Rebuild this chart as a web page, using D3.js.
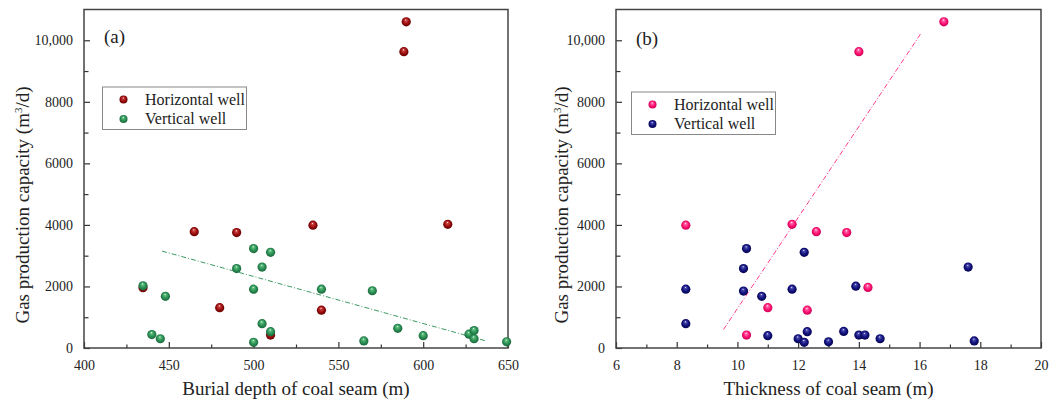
<!DOCTYPE html>
<html>
  <head>
    <script src="https://d3js.org/d3.v7.min.js"></script>
    <style>
      body {
        margin: 0;
        background-color: #ffffff;
      }
      svg text {
        font-family: "Liberation Serif", "Times New Roman", "DejaVu Serif", serif !important;
      }
    </style>
    <title>Gas production capacity</title>
  </head>

  <body>
    <svg id="chart" width="1061" height="401"></svg>

    <script>
      // panel (a): burial depth (m) vs gas production (m3/d)
      var depthHorizontal = [590, 588.6, 535, 614.5, 465, 490, 480, 540, 434.8, 510];
      var gasHorizontalA = [10600, 9630, 3990, 4020, 3780, 3750, 1310, 1230, 1960, 420];
      var depthVertical = [434.8, 448, 440, 445, 500, 510, 490, 505, 500, 540, 570, 505, 510, 500, 565, 585, 600, 627, 630, 630, 649.2];
      var gasVerticalA = [2020, 1680, 435, 300, 3230, 3110, 2580, 2630, 1910, 1910, 1860, 790, 530, 185, 230, 640, 400, 450, 565, 300, 200];
      var trendA = [[446, 3150], [637, 230]];

      // panel (b): thickness (m) vs gas production (m3/d)
      var thickHorizontal = [16.8, 14.0, 8.3, 11.8, 12.6, 13.6, 14.3, 11.0, 12.3, 10.3];
      var gasHorizontalB = [10600, 9630, 3990, 4020, 3780, 3750, 1970, 1310, 1230, 420];
      var thickVertical = [10.3, 12.2, 10.2, 17.6, 8.3, 11.8, 13.9, 10.2, 10.8, 8.3, 11.0, 12.0, 12.2, 12.3, 13.0, 13.5, 14.0, 14.2, 14.7, 17.8];
      var gasVerticalB = [3230, 3110, 2580, 2630, 1910, 1910, 2010, 1850, 1680, 790, 400, 300, 185, 530, 200, 540, 420, 420, 300, 230];
      var trendB = [[9.54, 600], [16.03, 10200]];

      var yTicks = [0, 2000, 4000, 6000, 8000, 10000];
      var yTickLabels = ["0", "2000", "4000", "6000", "8000", "10,000"];
      var xTicksA = [400, 450, 500, 550, 600, 650];
      var xTicksB = [6, 8, 10, 12, 14, 16, 18, 20];
      var legendLabels = ["Horizontal well", "Vertical well"];

      var canvas = d3.select("#chart");
      var defs = canvas.append("defs");

      function sphere(id, light, base, dark) {
        var g = defs
          .append("radialGradient")
          .attr("id", id)
          .attr("cx", "50%")
          .attr("cy", "50%")
          .attr("r", "55%")
          .attr("fx", "45%")
          .attr("fy", "28%");
        g.append("stop").attr("offset", "0%").attr("stop-color", "#ffffff");
        g.append("stop").attr("offset", "18%").attr("stop-color", light);
        g.append("stop").attr("offset", "60%").attr("stop-color", base);
        g.append("stop").attr("offset", "100%").attr("stop-color", dark);
      }
      sphere("redBall", "#c44", "#9a0c0c", "#5a0000");
      sphere("greenBall", "#5cbf80", "#2a8c50", "#17603a");
      sphere("pinkBall", "#ff6aa8", "#ff0f72", "#c0004f");
      sphere("navyBall", "#4a4ab0", "#10107a", "#05054a");

      function drawPanel(opt) {
        var x = d3.scaleLinear().domain(opt.xDomain).range([opt.left, opt.right]);
        var y = d3.scaleLinear().domain([0, 11000]).range([348, 9.5]);
        var g = canvas.append("g");

        // minor ticks (inside)
        g.append("g")
          .attr("transform", "translate(0,348)")
          .call(d3.axisBottom(x).tickValues(opt.xMinor).tickSize(-3.5).tickFormat(""))
          .call((s) => s.select(".domain").remove());
        g.append("g")
          .attr("transform", "translate(" + opt.left + ",0)")
          .call(d3.axisLeft(y).tickValues(d3.range(1000, 11000, 2000)).tickSize(-4.5).tickFormat(""))
          .call((s) => s.select(".domain").remove());

        // major ticks + labels
        g.append("g")
          .attr("transform", "translate(0,348)")
          .call(d3.axisBottom(x).tickValues(opt.xTicks).tickSize(-6).tickPadding(12))
          .call((s) => s.select(".domain").remove());
        g.append("g")
          .attr("transform", "translate(" + opt.left + ",0)")
          .call(
            d3
              .axisLeft(y)
              .tickValues(yTicks)
              .tickSize(-6)
              .tickPadding(11)
              .tickFormat((d, i) => yTickLabels[i])
          )
          .call((s) => s.select(".domain").remove());

        g.selectAll(".tick line").style("stroke", "#333").style("stroke-width", "1.2px");
        g.selectAll(".tick text").style("font-size", "14px").style("fill", "#222");

        // frame
        g.append("rect")
          .attr("x", opt.left)
          .attr("y", 9.5)
          .attr("width", opt.right - opt.left)
          .attr("height", 348 - 9.5)
          .style("fill", "none")
          .style("stroke", "#444")
          .style("stroke-width", "1.5px");

        // trend line
        g.append("path")
          .datum(opt.trend)
          .attr("d", d3.line().x((d) => x(d[0])).y((d) => y(d[1])))
          .style("fill", "none")
          .style("stroke", opt.trendColor)
          .style("stroke-width", "1px")
          .style("stroke-dasharray", "5,2,1,2");

        // points: horizontal first, vertical on top
        g.selectAll(".h")
          .data(opt.hx)
          .enter()
          .append("circle")
          .attr("cx", (d) => x(d))
          .attr("cy", (d, i) => y(opt.hy[i]))
          .attr("r", 4.6)
          .style("fill", "url(#" + opt.hFill + ")");
        g.selectAll(".v")
          .data(opt.vx)
          .enter()
          .append("circle")
          .attr("cx", (d) => x(d))
          .attr("cy", (d, i) => y(opt.vy[i]))
          .attr("r", 4.6)
          .style("fill", "url(#" + opt.vFill + ")");

        // panel tag
        g.append("text")
          .attr("x", opt.tagX)
          .attr("y", opt.tagY)
          .style("font-size", "19px")
          .style("fill", "#222")
          .text(opt.tag);

        // legend
        var lg = g.append("g").attr("transform", "translate(" + opt.legX + "," + opt.legY + ")");
        lg.append("rect")
          .attr("width", 144)
          .attr("height", 42.5)
          .style("fill", "#fff")
          .style("stroke", "#888")
          .style("stroke-width", "1px");
        [opt.hFill, opt.vFill].forEach(function (f, i) {
          lg.append("circle")
            .attr("cx", 21)
            .attr("cy", 12.5 + i * 19.5)
            .attr("r", 4)
            .style("fill", "url(#" + f + ")");
          lg.append("text")
            .attr("x", 42.5)
            .attr("y", 17.5 + i * 19.5)
            .style("font-size", "16px")
            .style("fill", "#222")
            .text(legendLabels[i]);
        });

        // axis titles
        g.append("text")
          .attr("x", (opt.left + opt.right) / 2)
          .attr("y", 395)
          .attr("text-anchor", "middle")
          .style("font-size", "19px")
          .style("fill", "#222")
          .text(opt.xTitle);

        var yt = g
          .append("text")
          .attr("transform", "translate(" + opt.yTitleX + ",205) rotate(-90)")
          .attr("text-anchor", "middle")
          .style("font-size", "19px")
          .style("fill", "#222");
        yt.append("tspan").text("Gas production capacity (m");
        yt.append("tspan").attr("dy", -7).style("font-size", "11px").text("3");
        yt.append("tspan").attr("dy", 7).text("/d)");
      }

      drawPanel({
        left: 84,
        right: 508,
        xDomain: [400, 650],
        xTicks: xTicksA,
        xMinor: d3.range(425, 650, 50),
        hx: depthHorizontal,
        hy: gasHorizontalA,
        vx: depthVertical,
        vy: gasVerticalA,
        hFill: "redBall",
        vFill: "greenBall",
        trend: trendA,
        trendColor: "#3d9a63",
        tag: "(a)",
        tagX: 104,
        tagY: 43,
        legX: 102.5,
        legY: 87,
        xTitle: "Burial depth of coal seam (m)",
        yTitleX: 29,
      });

      drawPanel({
        left: 616,
        right: 1041,
        xDomain: [6, 20],
        xTicks: xTicksB,
        xMinor: d3.range(7, 20, 2),
        hx: thickHorizontal,
        hy: gasHorizontalB,
        vx: thickVertical,
        vy: gasVerticalB,
        hFill: "pinkBall",
        vFill: "navyBall",
        trend: trendB,
        trendColor: "#ff3d8f",
        tag: "(b)",
        tagX: 636,
        tagY: 45,
        legX: 631.5,
        legY: 92,
        xTitle: "Thickness of coal seam (m)",
        yTitleX: 568,
      });
    </script>
  </body>
</html>
